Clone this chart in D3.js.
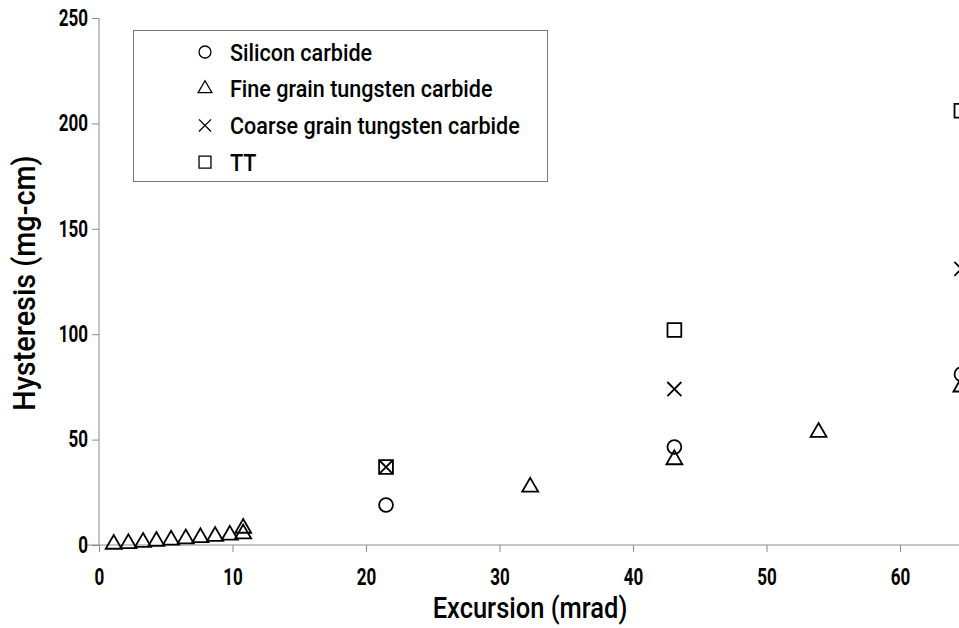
<!DOCTYPE html>
<html>
<head>
<meta charset="utf-8">
<script src="https://cdn.jsdelivr.net/npm/d3@7"></script>
<style>
  body { margin: 0; background: #fff; }
  text { font-family: Roboto, "Liberation Sans", sans-serif; }
</style>
</head>
<body>
<div id="plot"></div>
<script>
// Chart size
var w = 959;
var h = 628;
var margin = {left: 99, top: 18, bottom: 83};

// Series names (legend order)
var seriesNames = ["Silicon carbide", "Fine grain tungsten carbide", "Coarse grain tungsten carbide", "TT"];

// Silicon carbide
var siliconX = [21.5, 43.1, 64.6];
var siliconY = [19, 46.5, 81];

// Fine grain tungsten carbide
var fineX = [1.1, 2.2, 3.3, 4.3, 5.4, 6.5, 7.6, 8.7, 9.8, 10.8, 10.8, 32.3, 43.1, 53.9, 64.6];
var fineY = [0.4, 0.7, 1.3, 1.8, 2.4, 3.0, 3.5, 4.1, 4.7, 5.3, 8, 27.5, 40.5, 53.5, 75];

// Coarse grain tungsten carbide
var coarseX = [21.5, 43.1, 64.6];
var coarseY = [37, 74, 131];

// TT
var ttX = [21.5, 43.1, 64.6];
var ttY = [37, 102, 206];

// Tick labels
var xTicks = [0, 10, 20, 30, 40, 50, 60];
var yTicks = [0, 50, 100, 150, 200, 250];

var xScale = d3.scaleLinear().domain([0, 10]).range([margin.left, margin.left + 133.5]);
var yScale = d3.scaleLinear().domain([0, 250]).range([h - margin.bottom, margin.top]);

var svg = d3.select("#plot").append("svg")
  .attr("width", w)
  .attr("height", h);

// squeeze text sideways, there is no condensed face installed
function squeeze(k) { return "scale(" + k + ",1)"; }
var tickSq = 0.74;

// Axes
var xAxis = d3.axisBottom(xScale).tickValues(xTicks).tickSize(7).tickPadding(17);
var yAxis = d3.axisLeft(yScale).tickValues(yTicks).tickSize(7);

var gx = svg.append("g")
  .attr("transform", "translate(0," + yScale(0) + ")")
  .call(xAxis);
gx.select(".domain").attr("d", "M" + (margin.left - 12) + ",0H" + w);

var gy = svg.append("g")
  .attr("transform", "translate(" + margin.left + ",0)")
  .call(yAxis);
gy.select(".domain").attr("d", "M0," + yScale(0) + "V" + yScale(250));
gy.selectAll(".tick text").attr("x", -11 / tickSq);

svg.selectAll(".domain, .tick line").attr("stroke", "#8a8a8a").attr("stroke-width", 1);
svg.selectAll(".tick text")
  .attr("fill", "#000")
  .attr("font-size", "23px")
  .attr("font-weight", "bold")
  .attr("transform", squeeze(tickSq));

// Axis titles
svg.append("g")
  .attr("transform", "translate(530,618)")
  .append("text")
  .attr("transform", squeeze(0.85))
  .attr("text-anchor", "middle")
  .attr("font-size", "30px")
  .attr("font-weight", 500)
  .text("Excursion (mrad)");

svg.append("g")
  .attr("transform", "translate(35,283) rotate(-90)")
  .append("text")
  .attr("transform", squeeze(0.93))
  .attr("text-anchor", "middle")
  .attr("font-size", "31px")
  .attr("font-weight", 500)
  .text("Hysteresis (mg-cm)");

// Symbols
var shapes = [d3.symbolCircle, d3.symbolTriangle, d3.symbolTimes, d3.symbolSquare];
var sizes = [150, 110, 130, 190];

function draw(xs, ys, i) {
  var pts = xs.map(function(x, j) { return [x, ys[j]]; });
  var sym = d3.symbol().type(shapes[i]).size(sizes[i]);
  svg.append("g").selectAll("path")
    .data(pts)
    .enter()
    .append("path")
    .attr("d", sym)
    .attr("transform", function(d) { return "translate(" + xScale(d[0]) + "," + yScale(d[1]) + ")"; })
    .attr("fill", "none")
    .attr("stroke", "#000")
    .attr("stroke-width", 1.8);
}

draw(siliconX, siliconY, 0);
draw(fineX, fineY, 1);
draw(coarseX, coarseY, 2);
draw(ttX, ttY, 3);

// Legend
var legend = svg.append("g");
legend.append("rect")
  .attr("x", 133.5).attr("y", 30.5)
  .attr("width", 414).attr("height", 151)
  .attr("fill", "#fff")
  .attr("stroke", "#777");

var rows = legend.selectAll("g.row")
  .data(seriesNames)
  .enter()
  .append("g")
  .attr("transform", function(d, i) { return "translate(205," + (52 + i * 36.7) + ")"; });

rows.append("path")
  .attr("d", function(d, i) { return d3.symbol().type(shapes[i]).size(sizes[i] * 0.75)(); })
  .attr("fill", "none")
  .attr("stroke", "#000")
  .attr("stroke-width", 1.3);

rows.append("g")
  .attr("transform", "translate(25,8.5)")
  .append("text")
  .attr("transform", squeeze(0.88))
  .attr("font-size", "24.5px")
  .attr("font-weight", 500)
  .text(function(d) { return d; });
</script>
</body>
</html>
